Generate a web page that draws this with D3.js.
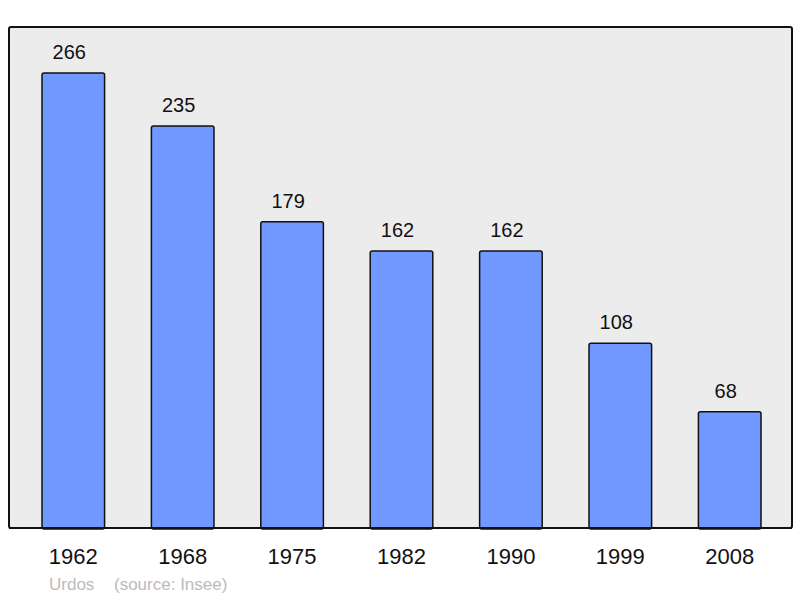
<!DOCTYPE html>
<html>
<head>
<meta charset="utf-8">
<script src="https://cdn.jsdelivr.net/npm/d3@7"></script>
<style>
  body { margin: 0; background: #fff; }
  svg { display: block; font-family: "Liberation Sans", Arial, sans-serif; }
</style>
</head>
<body>
<svg id="chart"></svg>
<script>
const years = ["1962", "1968", "1975", "1982", "1990", "1999", "2008"];
const population = [266, 235, 179, 162, 162, 108, 68];
const town = "Urdos";
const source = "(source: Insee)";

const width = 800;
const height = 598;

const panel = { left: 9, top: 27, right: 792, bottom: 528 };

const svg = d3.select("#chart")
    .attr("width", width)
    .attr("height", height);

const x = d3.scaleBand()
    .domain(years)
    .range([panel.left + 1, panel.right + 1])
    .paddingInner(0.428)
    .paddingOuter(0.2925);

const y = d3.scaleLinear()
    .domain([0, 266])
    .range([panel.bottom, 73]);

svg.append("rect")
    .attr("x", panel.left)
    .attr("y", panel.top)
    .attr("width", panel.right - panel.left)
    .attr("height", panel.bottom - panel.top)
    .attr("rx", 2)
    .attr("fill", "#ececec")
    .attr("stroke", "#111")
    .attr("stroke-width", 2);

const data = years.map((d, i) => ({ year: d, value: population[i] }));

svg.append("g")
    .selectAll("rect")
    .data(data)
    .join("rect")
    .attr("x", d => x(d.year))
    .attr("y", d => y(d.value))
    .attr("width", x.bandwidth())
    .attr("height", d => y(0) - y(d.value) + 1)
    .attr("rx", 2)
    .attr("fill", "#7098ff")
    .attr("stroke", "#111")
    .attr("stroke-width", 1.5);

// bottom edge of the panel drawn again over the bars
svg.append("line")
    .attr("x1", panel.left)
    .attr("x2", panel.right)
    .attr("y1", panel.bottom)
    .attr("y2", panel.bottom)
    .attr("stroke", "#111")
    .attr("stroke-width", 2);

svg.append("g")
    .selectAll("text")
    .data(data)
    .join("text")
    .attr("x", d => x(d.year) + x.bandwidth() / 2 - 4)
    .attr("y", d => y(d.value) - 14)
    .attr("text-anchor", "middle")
    .attr("font-size", 20)
    .attr("fill", "#111")
    .text(d => d.value);

svg.append("g")
    .selectAll("text")
    .data(years)
    .join("text")
    .attr("x", d => x(d) + x.bandwidth() / 2)
    .attr("y", 564)
    .attr("text-anchor", "middle")
    .attr("font-size", 22)
    .attr("fill", "#111")
    .text(d => d);

svg.append("text")
    .attr("x", 49)
    .attr("y", 590)
    .attr("font-size", 17)
    .attr("fill", "#bbb")
    .text(town);

svg.append("text")
    .attr("x", 114)
    .attr("y", 590)
    .attr("font-size", 17)
    .attr("fill", "#bbb")
    .text(source);
</script>
</body>
</html>
